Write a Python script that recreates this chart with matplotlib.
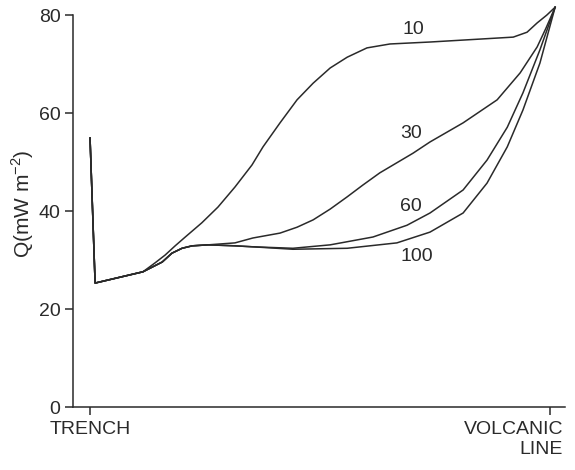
import numpy as np
import matplotlib
matplotlib.use("Agg")
import matplotlib.pyplot as plt
import matplotlib.transforms as mtransforms

plt.rcParams["font.family"] = ["Liberation Sans", "DejaVu Sans"]
plt.rcParams["mathtext.fontset"] = "custom"
plt.rcParams["mathtext.rm"] = "Liberation Sans"

# distance from trench (0) to volcanic line (1), heat flow Q in mW m-2
x10 = [0, 0.011, 0.115, 0.141, 0.163, 0.185, 0.207, 0.243, 0.278, 0.315, 0.352, 0.376, 0.413, 0.450, 0.485,
       0.522, 0.559, 0.602, 0.652, 0.739, 0.848, 0.920, 0.950, 0.972, 0.993, 1.011]
q10 = [54.9, 25.3, 27.6, 29.4, 31.0, 32.9, 34.7, 37.6, 40.8, 44.9, 49.4, 53.1, 58.0, 62.7, 66.1,
       69.2, 71.4, 73.3, 74.1, 74.5, 75.1, 75.5, 76.5, 78.4, 80.0, 81.6]

x30 = [0, 0.011, 0.115, 0.157, 0.178, 0.200, 0.222, 0.257, 0.315, 0.354, 0.413, 0.450,
       0.485, 0.522, 0.559, 0.593, 0.630, 0.702, 0.739, 0.811, 0.885, 0.935, 0.972, 0.991, 1.011]
q30 = [54.9, 25.3, 27.6, 29.6, 31.4, 32.4, 32.9, 33.1, 33.5, 34.5, 35.5, 36.7,
       38.2, 40.4, 42.9, 45.3, 47.8, 51.8, 54.1, 58.0, 62.7, 68.2, 73.5, 77.3, 81.6]

x60 = [0, 0.011, 0.115, 0.157, 0.178, 0.200, 0.222, 0.257, 0.315, 0.354, 0.441, 0.522,
       0.615, 0.689, 0.739, 0.811, 0.863, 0.907, 0.941, 0.978, 1.011]
q60 = [54.9, 25.3, 27.6, 29.6, 31.4, 32.4, 32.9, 33.1, 32.9, 32.7, 32.4, 33.1,
       34.7, 37.1, 39.6, 44.3, 50.4, 57.1, 64.1, 72.9, 81.6]

x100 = [0, 0.011, 0.115, 0.157, 0.178, 0.200, 0.222, 0.257, 0.315, 0.354, 0.441, 0.559,
        0.667, 0.739, 0.811, 0.863, 0.907, 0.941, 0.978, 1.011]
q100 = [54.9, 25.3, 27.6, 29.6, 31.4, 32.4, 32.9, 33.1, 32.9, 32.7, 32.2, 32.4,
        33.5, 35.7, 39.6, 45.7, 53.1, 60.6, 70.2, 81.6]

labels = ["10", "30", "60", "100"]
label_pos = [(0.702, 77.1), (0.698, 55.9), (0.698, 41.0), (0.711, 30.8)]

ink = "#2a2a2a"

fig = plt.figure(figsize=(5.75, 4.7), dpi=100)
ax = fig.add_axes([0.127, 0.134, 0.856, 0.86])

for xs, qs in [(x10, q10), (x30, q30), (x60, q60), (x100, q100)]:
    ax.plot(xs, qs, color=ink, lw=1.1, clip_on=False, solid_joinstyle="round")

for lab, (lx, ly) in zip(labels, label_pos):
    ax.text(lx, ly, lab, fontsize=14, color=ink, ha="center", va="center")

ax.set_xlim(-0.037, 1.033)
ax.set_ylim(0, 82.5)
ax.spines["top"].set_visible(False)
ax.spines["right"].set_visible(False)
ax.spines["left"].set_bounds(0, 80)
for s in ["left", "bottom"]:
    ax.spines[s].set_color(ink)
    ax.spines[s].set_linewidth(1.1)

ax.set_yticks([0, 20, 40, 60, 80])
ax.tick_params(axis="y", direction="out", length=6, width=1.1, colors=ink, labelsize=14, pad=3)
ax.set_xticks([0, 1])
ax.set_xticklabels(["TRENCH", "VOLCANIC\nLINE"])
ax.tick_params(axis="x", direction="out", length=6, width=1.1, colors=ink, labelsize=14, pad=4)
lab2 = ax.get_xticklabels()[1]
lab2.set_horizontalalignment("right")
lab2.set_multialignment("right")
lab2.set_transform(lab2.get_transform() + mtransforms.ScaledTranslation(13 / 100, 0, fig.dpi_scale_trans))

ax.set_ylabel(r"Q(mW m$^{\mathregular{-2}}$)", fontsize=15, color=ink)
ax.yaxis.set_label_coords(-0.075, 0.502)

fig.savefig("out.png", dpi=100)
